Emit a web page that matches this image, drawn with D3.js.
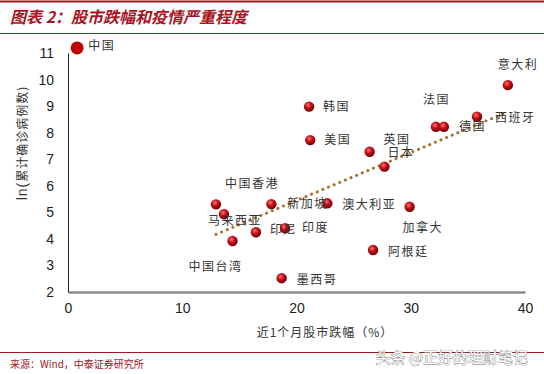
<!DOCTYPE html>
<html>
<head>
<meta charset="utf-8">
<title>股市跌幅和疫情严重程度</title>
<script src="https://cdn.jsdelivr.net/npm/d3@7/dist/d3.min.js"></script>
<style>
  body { margin: 0; background: #fff; }
  svg { display: block; }
  .tick text { font: 14px "Liberation Sans", Arial, sans-serif; fill: #222; }
  .lbl { font: 12px "Noto Sans CJK SC", sans-serif; fill: #333; letter-spacing: 1.5px; }
</style>
</head>
<body>
<script>
// data
const countries = ['中国', '韩国', '美国', '英国', '日本', '法国', '德国', '西班牙', '意大利',
  '中国香港', '马来西亚', '中国台湾', '印尼', '新加坡', '澳大利亚', '印度', '加拿大', '阿根廷', '墨西哥'];
const stockDrop = [0.8, 21.1, 21.2, 26.4, 27.7, 32.2, 32.9, 35.8, 38.5,
  12.95, 13.65, 14.4, 16.45, 17.8, 22.7, 19.0, 29.9, 26.7, 18.7];
const logCases = [11.19, 8.98, 7.72, 7.28, 6.72, 8.22, 8.22, 8.6, 9.79,
  5.3, 4.93, 3.92, 4.25, 5.31, 5.34, 4.4, 5.21, 3.58, 2.52];
const xTicks = [0, 10, 20, 30, 40];
const yTicks = [2, 3, 4, 5, 6, 7, 8, 9, 10, 11];

// label placement relative to each dot (px)
const labelOffsets = [[11, -2], [14, 0], [14, 0], [14, -12], [3, -14], [-13, -27], [15, 0], [18, 1], [-10, -20],
  [9, -21], [-16, 7], [-44, 26], [14, -2], [16, 0], [15, 1], [17, 0], [-7, 21], [15, 2], [15, 2]];

const W = 544, H = 374;
const darkRed = '#9c1a22';

const svg = d3.select('body').append('svg')
  .attr('width', W).attr('height', H);

const defs = svg.append('defs');
const grad = defs.append('radialGradient')
  .attr('id', 'ball').attr('cx', '40%').attr('cy', '35%').attr('r', '65%');
grad.append('stop').attr('offset', '0%').attr('stop-color', '#ff7a6a');
grad.append('stop').attr('offset', '45%').attr('stop-color', '#c8101a');
grad.append('stop').attr('offset', '100%').attr('stop-color', '#6e0006');

// title block
svg.append('line').attr('x1', 0).attr('x2', W).attr('y1', 1.5).attr('y2', 1.5)
  .attr('stroke', darkRed).attr('stroke-width', 2);
svg.append('text')
  .attr('x', 10).attr('y', 23)
  .attr('fill', '#a8141e')
  .style('font', 'italic bold 16px "Noto Sans CJK SC", sans-serif')
  .text('图表 2：股市跌幅和疫情严重程度');
svg.append('line').attr('x1', 0).attr('x2', W).attr('y1', 33.5).attr('y2', 33.5)
  .attr('stroke', darkRed).attr('stroke-width', 1);

// scales
const x = d3.scaleLinear().domain([0, 40]).range([68, 525]);
const y = d3.scaleLinear().domain([2, 11]).range([292, 53]);

// axes
const gx = svg.append('g').attr('transform', `translate(0,${y(2)})`)
  .call(d3.axisBottom(x).tickValues(xTicks).tickSize(0).tickPadding(11));
gx.select('.domain').attr('stroke', '#8c8c8c').attr('stroke-width', 2.5);

const gy = svg.append('g').attr('transform', `translate(${x(0)},0)`)
  .call(d3.axisLeft(y).tickValues(yTicks).tickSize(0).tickPadding(14));
gy.select('.domain').attr('stroke', '#222').attr('stroke-width', 1);

// axis titles
svg.append('text')
  .attr('x', 325).attr('y', 337)
  .attr('text-anchor', 'middle')
  .attr('fill', '#333')
  .style('font', '12px "Noto Sans CJK SC", sans-serif')
  .style('letter-spacing', '1px')
  .text('近1个月股市跌幅（%）');
const yt = svg.append('text')
  .attr('transform', `translate(27,143) rotate(-90)`)
  .attr('text-anchor', 'middle')
  .attr('fill', '#333')
  .style('font', '12px "Noto Sans CJK SC", sans-serif')
  .style('letter-spacing', '1px');
yt.append('tspan').style('font-size', '14px').style('font-family', '"Liberation Sans", Arial, sans-serif').text('ln(');
yt.append('tspan').text('累计确诊病例数');
yt.append('tspan').text(')');

// trend line: least squares over all markets except China
const idx = d3.range(1, countries.length);
const mx = d3.mean(idx, i => stockDrop[i]);
const my = d3.mean(idx, i => logCases[i]);
const slope = d3.sum(idx, i => (stockDrop[i] - mx) * (logCases[i] - my)) /
  d3.sum(idx, i => (stockDrop[i] - mx) ** 2);
const icpt = my - slope * mx;
const xr = d3.extent(idx, i => stockDrop[i]);
svg.append('path')
  .datum(xr)
  .attr('d', d3.line().x(d => x(d)).y(d => y(icpt + slope * d)))
  .attr('fill', 'none')
  .attr('stroke', '#a8702e')
  .attr('stroke-width', 3)
  .attr('stroke-linecap', 'round')
  .attr('stroke-dasharray', '0.1 6');

// dots
const pts = countries.map((c, i) => ({ c, x: stockDrop[i], y: logCases[i], o: labelOffsets[i], i }));

svg.append('g').selectAll('circle')
  .data(pts)
  .join('circle')
  .attr('cx', d => x(d.x))
  .attr('cy', d => y(d.y))
  .attr('r', d => d.i === 0 ? 6.5 : 5.2)
  .attr('fill', d => d.i === 0 ? '#c00000' : 'url(#ball)');

svg.append('g').selectAll('text')
  .data(pts)
  .join('text')
  .attr('class', 'lbl')
  .attr('x', d => x(d.x) + d.o[0])
  .attr('y', d => y(d.y) + d.o[1])
  .attr('dy', '0.35em')
  .text(d => d.c);

// source
svg.append('line').attr('x1', 0).attr('x2', W).attr('y1', 352.5).attr('y2', 352.5)
  .attr('stroke', darkRed).attr('stroke-width', 1);
svg.append('text')
  .attr('x', 10).attr('y', 368)
  .attr('fill', '#a8141e')
  .style('font', '10px "Noto Sans CJK SC", sans-serif')
  .text('来源：Wind，中泰证券研究所');

// watermark
svg.append('text')
  .attr('x', 528).attr('y', 363)
  .attr('text-anchor', 'end')
  .attr('fill', '#fff')
  .attr('stroke', '#6a6a6a')
  .attr('stroke-width', 0.7)
  .style('paint-order', 'stroke')
  .style('font', '15px "Noto Sans CJK SC", sans-serif')
  .text('头条 @正好的理财笔记');
</script>
</body>
</html>
